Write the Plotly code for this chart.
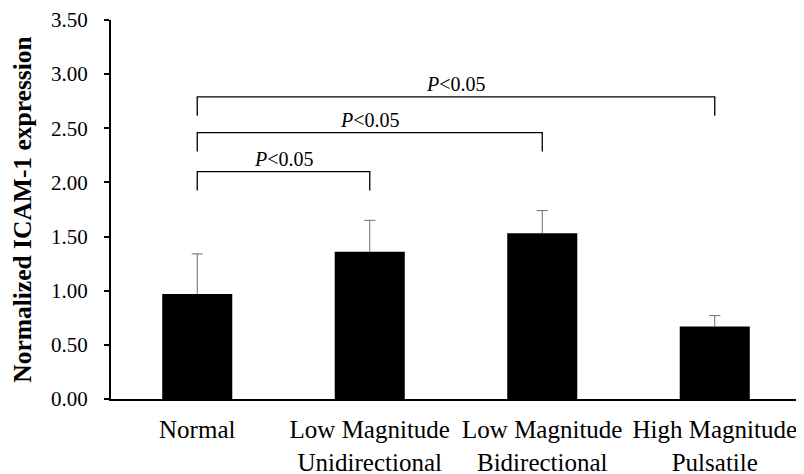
import plotly.graph_objects as go

categories = ["Normal", "Low Magnitude<br>Unidirectional", "Low Magnitude<br>Bidirectional", "High Magnitude<br>Pulsatile"]
means = [0.97, 1.36, 1.53, 0.67]
errors_up = [0.37, 0.29, 0.21, 0.10]
y_ticks = [0.0, 0.5, 1.0, 1.5, 2.0, 2.5, 3.0, 3.5]

# significance brackets: (left category index, right category index, bracket height)
bracket_left = [0, 0, 0]
bracket_right = [1, 2, 3]
bracket_height = [2.10, 2.46, 2.79]
bracket_label = "<i>P</i>&lt;0.05"
bracket_drop = 0.175

SERIF = "Liberation Serif"

fig = go.Figure()
fig.add_trace(go.Bar(
    x=categories, y=means, marker=dict(color="black", line=dict(width=0)),
    showlegend=False, hoverinfo="skip",
))

# error bar stems (upper only)
sx, sy = [], []
for c, m, e in zip(categories, means, errors_up):
    sx += [c, c, None]
    sy += [m, m + e, None]
fig.add_trace(go.Scatter(x=sx, y=sy, mode="lines", line=dict(color="#6e6e6e", width=1),
                         showlegend=False, hoverinfo="skip"))
fig.add_trace(go.Scatter(x=categories, y=[m + e for m, e in zip(means, errors_up)], mode="markers",
                         marker=dict(symbol="line-ew", size=8, line=dict(color="#6e6e6e", width=1)),
                         showlegend=False, hoverinfo="skip"))

shapes = []
annotations = []
for l, r, h in zip(bracket_left, bracket_right, bracket_height):
    shapes.append(dict(type="path", xref="x", yref="y",
                       path=f"M {l},{h - bracket_drop} L {l},{h} L {r},{h} L {r},{h - bracket_drop}",
                       line=dict(color="black", width=1.3)))
    annotations.append(dict(x=(l + r) / 2, y=h, xref="x", yref="y", text=bracket_label,
                            showarrow=False, yanchor="bottom", yshift=0,
                            font=dict(family=SERIF, size=20, color="black")))

fig.update_layout(
    width=796, height=466,
    margin=dict(l=103, r=3, t=12, b=75, autoexpand=False),
    plot_bgcolor="white", paper_bgcolor="white",
    bargap=0.594,
    shapes=shapes, annotations=annotations,
    font=dict(family=SERIF, color="black"),
)
fig.update_xaxes(type="category", showline=True, linecolor="black", linewidth=2,
                 ticks="", showgrid=False, tickfont=dict(family=SERIF, size=25, color="black"),
                 ticklabelstandoff=7, range=[-0.5, 3.5], automargin=False)
fig.update_yaxes(range=[0, 3.5], tickvals=y_ticks, tickformat=".2f", showline=True,
                 linecolor="black", linewidth=2, ticks="outside", ticklen=5, tickwidth=2,
                 tickcolor="black", showgrid=False, zeroline=False, automargin=False,
                 tickfont=dict(family=SERIF, size=21, color="black"), ticklabelstandoff=12,
                 title=dict(text="<b>Normalized ICAM-1 expression</b>", standoff=14,
                            font=dict(family=SERIF, size=25.5, color="black")))

fig.write_html("out.html")
